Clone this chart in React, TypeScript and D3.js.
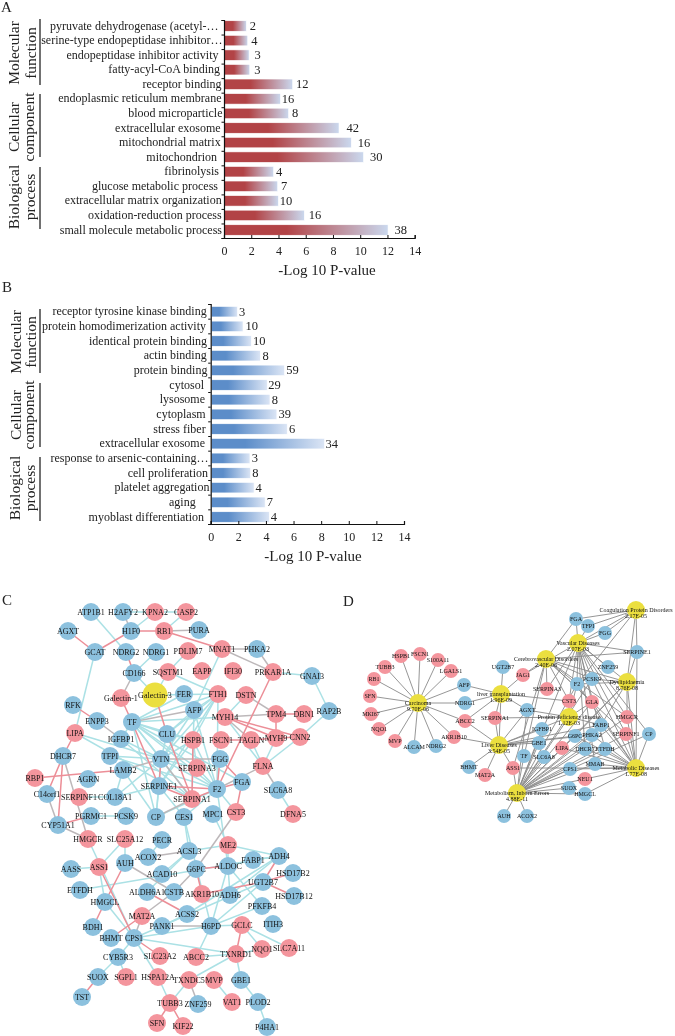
import React, { useEffect, useRef } from "react";
import * as d3 from "d3";

const FONT = "'Liberation Serif', 'Times New Roman', serif";

// ---------- Panel A ----------
const termsA = ["pyruvate dehydrogenase (acetyl-…", "serine-type endopeptidase inhibitor…", "endopeptidase inhibitor activity", "fatty-acyl-CoA binding", "receptor binding", "endoplasmic reticulum membrane", "blood microparticle", "extracellular exosome", "mitochondrial matrix", "mitochondrion", "fibrinolysis", "glucose metabolic process", "extracellular matrix organization", "oxidation-reduction process", "small molecule metabolic process"];
const valuesA = [1.6, 1.7, 1.8, 1.85, 5.0, 4.1, 4.7, 8.4, 9.3, 10.2, 3.6, 3.9, 3.95, 5.85, 12.0];
const countsA = [2, 4, 3, 3, 12, 16, 8, 42, 16, 30, 4, 7, 10, 16, 38];
const labelGapA = [5.5, 1.5, 5.5, 4, 2.5, 2.5, 1.5, 3.3, 3.3, 7, 5, 6, 2.3, 2.3, 2];
const countGapA = [4, 4, 6, 5, 4, 2, 4, 8, 7, 7, 3, 4, 2, 5, 7];

// ---------- Panel B ----------
const termsB = ["receptor tyrosine kinase binding", "protein homodimerization activity", "identical protein binding", "actin binding", "protein binding", "cytosol", "lysosome", "cytoplasm", "stress fiber", "extracellular exosome", "response to arsenic-containing…", "cell proliferation", "platelet aggregation", "aging", "myoblast differentiation"];
const valuesB = [1.9, 2.3, 2.9, 3.55, 5.3, 4.05, 4.25, 4.75, 5.5, 8.2, 2.8, 2.85, 3.1, 3.9, 4.2];
const countsB = [3, 10, 10, 8, 59, 29, 8, 39, 6, 34, 3, 8, 4, 7, 4];
const labelGapB = [4, 4.7, 3.7, 4, 3.3, 6.7, 5.7, 5, 5, 5.7, 2.3, 2.7, 1.3, 15, 6.7];
const countGapB = [2, 3, 2.3, 2.7, 2.3, 1.7, 2.3, 2.3, 2.3, 1.7, 2.3, 2.3, 2, 2.3, 2];

const xTicks = [0, 2, 4, 6, 8, 10, 12, 14];

// ---------- Panel C network ----------
type N = [string, number, number];
const blueC: N[] = [["ATP1B1",91,612],["H2AFY2",123,612],["AGXT",68,631],["H1F0",131,631],["PURA",199,630],["GCAT",95,652],["NDRG2",126,652],["NDRG1",156,652],["PHKA2",257,649],["CD166",134,673],["GNAI3",312,676],["FER",184,694],["RFK",73,705],["RAP2B",329,711],["AFP",194,710],["ENPP3",97,721],["TF",132,722],["CLU",167,734],["IGFBP1",121,739],["DHCR7",63,756],["TFPI",110,756],["VTN",161,759],["FGG",220,759],["LAMB2",123,770],["AGRN",88,779],["FGA",242,782],["SERPINE1",159,786],["F2",217,789],["SLC6A8",278,790],["C14orf1",47,794],["COL18A1",115,797],["PGRMC1",91,816],["PCSK9",126,816],["CP",156,817],["CES1",184,817],["MPC1",213,814],["CYP51A1",58,825],["PECR",162,840],["ACSL3",189,851],["ACOX2",148,857],["AUH",125,863],["FABP1",253,860],["ADH4",279,856],["G6PC",196,869],["ALDOC",228,866],["AASS",71,869],["ACAD10",162,874],["HSD17B2",293,873],["UGT2B7",263,882],["ETFDH",80,890],["ALDH6A1",147,892],["CSTB",174,892],["ADH6",230,895],["HSD17B12",294,896],["HMGCL",105,902],["PFKFB4",262,906],["ACSS2",187,914],["PANK1",162,926],["H6PD",211,926],["ITIH3",273,924],["BDH1",93,927],["BHMT",111,938],["CPS1",134,938],["CYB5R3",118,957],["SUOX",98,977],["GBE1",241,980],["TST",82,997],["ZNF259",198,1004],["PLOD2",258,1002],["P4HA1",267,1027]];
const redC: N[] = [["KPNA2",155,612],["CASP2",186,612],["RB1",164,631],["PDLIM7",188,651],["MNAT1",222,649],["SQSTM1",168,672],["EAPP",202,671],["IFI30",233,671],["PRKAR1A",273,672],["Galectin-1",121,698],["FTH1",218,694],["DSTN",246,695],["TPM4",276,714],["DBN1",304,714],["MYH14",225,717],["LIPA",75,733],["HSPB1",193,740],["FSCN1",221,740],["TAGLN",251,740],["MYH9",276,738],["CNN2",300,737],["SERPINA3",197,768],["FLNA",263,766],["RBP1",35,778],["SERPINF1",79,797],["SERPINA1",192,799],["CST3",236,812],["DFNA5",293,814],["HMGCR",88,839],["SLC25A12",125,839],["ME2",228,845],["ASS1",99,867],["AKR1B10",202,894],["MAT2A",142,916],["GCLC",242,925],["SLC7A11",289,948],["NQO1",262,949],["TXNRD1",236,954],["ABCC2",196,957],["SLC23A2",160,956],["SGPL1",126,977],["HSPA12A",158,977],["TXNDC5",189,980],["MVP",214,980],["VAT1",232,1002],["TUBB3",170,1003],["SFN",157,1023],["KIF22",183,1026]];
const yellowC: N[] = [["Galectin-3",155,695]];

const tealEdgesC = "ATP1B1:NDRG2 H2AFY2:KPNA2 KPNA2:CASP2 KPNA2:H1F0 CASP2:RB1 PRKAR1A:GNAI3 GNAI3:RAP2B RAP2B:CNN2 NDRG1:CD166 PDLIM7:SQSTM1 CD166:Galectin-3 SQSTM1:Galectin-3 SQSTM1:FTH1 GCAT:LIPA MNAT1:AFP FER:TF FTH1:TF FTH1:Galectin-3 FTH1:VTN FTH1:CLU FTH1:HSPB1 FTH1:SERPINE1 FTH1:AFP AFP:VTN AFP:CLU AFP:SERPINA1 TF:MYH14 TF:HSPB1 MYH14:DSTN MYH14:FLNA TAGLN:FLNA CNN2:FLNA MYH9:FLNA SLC6A8:DFNA5 LIPA:VTN LIPA:SERPINA1 TF:IGFBP1 TF:VTN TF:CLU TF:SERPINA3 TF:SERPINA1 TF:F2 TF:CP TF:FGA IGFBP1:VTN IGFBP1:SERPINA1 TFPI:VTN TFPI:F2 VTN:F2 VTN:CP CLU:HSPB1 CLU:VTN HSPB1:VTN HSPB1:SERPINA3 HSPB1:SERPINE1 HSPB1:F2 SERPINA3:F2 VTN:SERPINA3 F2:CST3 LAMB2:COL18A1 SERPINF1:COL18A1 COL18A1:VTN COL18A1:SERPINE1 PGRMC1:PCSK9 CP:F2 CP:SERPINE1 CES1:ACSL3 CES1:H6PD CES1:F2 CES1:SERPINE1 MPC1:ME2 F2:ALDOC HMGCR:CPS1 SLC25A12:AUH SLC25A12:ASS1 LAMB2:CP PECR:ACOX2 ACSL3:ACAD10 ACSL3:ALDH6A1 ACSL3:ME2 ME2:ADH4 ME2:ALDOC ALDOC:ADH6 ALDOC:H6PD ALDOC:PFKFB4 ALDOC:FABP1 FABP1:ADH4 ADH4:ACSS2 ADH4:ADH6 ADH4:ETFDH AASS:ASS1 ASS1:HMGCL HMGCL:CPS1 PANK1:ACSS2 PANK1:CPS1 CPS1:H6PD CPS1:TXNRD1 CPS1:CYB5R3 CPS1:HSPA12A CYB5R3:SUOX CYB5R3:SGPL1 H6PD:ABCC2 H6PD:GCLC UGT2B7:H6PD GCLC:NQO1 GCLC:SLC7A11 TXNRD1:ABCC2 TXNRD1:NQO1 TXNRD1:TXNDC5 TXNRD1:GBE1 GBE1:PLOD2 PLOD2:P4HA1 MVP:VAT1 TXNDC5:TUBB3 HSPA12A:TUBB3 PFKFB4:H6PD UGT2B7:PANK1 FTH1:F2 AFP:F2";
const pinkEdgesC = "H1F0:RB1 RB1:MNAT1 AGXT:GCAT GCAT:H1F0 PRKAR1A:F2 NDRG2:CD166 Galectin-1:TF Galectin-3:CLU RFK:ENPP3 TPM4:DBN1 TPM4:MYH9 MYH14:MYH9 MYH14:CNN2 FSCN1:TAGLN TAGLN:MYH9 MYH9:CNN2 LIPA:DHCR7 TF:SERPINE1 VTN:SERPINE1 CLU:SERPINA1 FGG:F2 SERPINE1:F2 SERPINE1:SERPINA1 SERPINA1:F2 F2:FGA FGA:CST3 FGG:FGA RBP1:LAMB2 DHCR7:C14orf1 DHCR7:CYP51A1 CYP51A1:PGRMC1 G6PC:ALDOC G6PC:AKR1B10 ADH4:UGT2B7 UGT2B7:HSD17B2 UGT2B7:HSD17B12 UGT2B7:AKR1B10 ASS1:CPS1 AUH:HMGCL HMGCL:BDH1 BHMT:MAT2A ALDH6A1:ACSS2 CPS1:SLC23A2 SUOX:TST GCLC:TXNRD1 TUBB3:SFN TUBB3:KIF22 HSPB1:SERPINA1";
const grayEdgesC = "H2AFY2:H1F0 RB1:PURA MNAT1:PHKA2 MNAT1:PRKAR1A PHKA2:PRKAR1A CD166:Galectin-1 AFP:TF ENPP3:IGFBP1 MYH14:TPM4 DSTN:TPM4 MYH14:TAGLN FLNA:SLC6A8 FLNA:F2 VTN:FGG VTN:SERPINA1 VTN:LAMB2 SERPINA1:CP DHCR7:HMGCR C14orf1:CYP51A1 CYP51A1:HMGCR ACOX2:ACSL3 CST3:G6PC MAT2A:CPS1 CSTB:MAT2A AUH:CSTB PANK1:H6PD TXNDC5:ZNF259 G6PC:CSTB";

// ---------- Panel D network ----------
const hubsD: [string, string, string, number, number][] = [
  ["Coag", "Coagulation Protein Disorders", "2.17E-05", 636, 610],
  ["Vasc", "Vascular Diseases", "2.07E-03", 578, 643],
  ["Cere", "Cerebrovascular Disorders", "2.40E-06", 546, 659],
  ["Dysl", "Dyslipidaemia", "8.76E-08", 627, 682],
  ["LivT", "liver transplantation", "1.96E-09", 501, 694],
  ["Carc", "Carcinoma", "9.70E-06", 418, 703],
  ["Prot", "Protein deficiency disease", "1.12E-03", 569, 717],
  ["LivD", "Liver Diseases", "3.54E-05", 499, 745],
  ["Meta", "Metabolic Diseases", "1.77E-08", 636, 768],
  ["Inbo", "Metabolism, Inborn Errors", "4.88E-11", 517, 793],
];
const blueD: N[] = [["ALCAM",414,747],["NDRG2",436,746],["AFP",464,685],["NDRG1",465,703],["UGT2B7",503,667],["AGXT",527,710],["F2",577,684],["PCSK9",592,679],["ZNF259",608,667],["FGA",576,619],["TFPI",588,626],["FGG",605,633],["SERPINE1",637,652],["FABP1",601,725],["IGFBP1",542,729],["G6PC",575,736],["PHKA2",592,735],["CP",649,734],["GBE1",539,743],["TF",524,756],["SLC6A8",544,757],["DHCR7",585,749],["ETFDH",605,749],["BHMT",469,767],["CPS1",570,769],["MMAB",595,764],["SUOX",569,788],["HMGCL",585,794],["AUH",504,816],["ACOX2",527,816]];
const redD: N[] = [["HSPB1",401,656],["FSCN1",420,654],["S100A11",438,660],["LGALS1",451,671],["TUBB3",385,667],["RB1",374,679],["SFN",370,696],["MKI67",371,714],["NQO1",379,729],["MVP",395,741],["AKR1B10",454,737],["ABCC2",465,721],["JAG1",523,675],["SERPINA1",495,718],["SERPINA3",547,689],["CST3",569,701],["GLA",592,702],["HMGCR",627,717],["SERPINF1",626,734],["LIPA",562,748],["MAT2A",485,775],["ASS1",513,768],["NEU1",585,779]];
const hubEdgesD: Record<string, string> = {
  Coag: "FGA TFPI FGG SERPINE1 F2 Vasc Dysl",
  Vasc: "FGA TFPI FGG SERPINE1 F2 PCSK9 ZNF259 CST3 SERPINA3 JAG1 HMGCR SERPINF1 GLA Dysl CP Inbo MMAB ETFDH DHCR7",
  Cere: "FGA SERPINE1 F2 PCSK9 CST3 SERPINA3 GLA JAG1 HMGCR SERPINF1 Dysl TF ASS1",
  Dysl: "SERPINE1 HMGCR PCSK9 F2 FABP1 LIPA G6PC",
  LivT: "UGT2B7 JAG1 AFP NDRG1 SERPINA1 ABCC2 AGXT CST3 LivD",
  Carc: "HSPB1 FSCN1 S100A11 LGALS1 TUBB3 RB1 SFN MKI67 NQO1 MVP ALCAM NDRG2 AKR1B10 ABCC2 NDRG1 AFP",
  Prot: "CST3 GLA AGXT SERPINA1 F2 FABP1 Inbo LivD",
  LivD: "AKR1B10 ABCC2 SERPINA1 AGXT BHMT MAT2A ASS1 IGFBP1 FABP1 G6PC PHKA2 GBE1",
  Meta: "CP SERPINF1 HMGCR ETFDH DHCR7 MMAB CPS1 NEU1 HMGCL PHKA2 G6PC LIPA FABP1 PCSK9 F2 GLA SERPINE1 Dysl ASS1",
  Inbo: "ASS1 AUH ACOX2 SUOX HMGCL NEU1 CPS1 MMAB TF GBE1 SLC6A8 LIPA G6PC PHKA2 DHCR7 ETFDH FABP1 IGFBP1 AGXT HMGCR CP SERPINF1 PCSK9 F2 GLA",
};

const identity = d3.scaleLinear().domain([0, 1]).range([0, 1]);

function XAxis({ scale, y }: { scale: d3.ScaleLinear<number, number>; y: number }) {
  const ref = useRef<SVGGElement>(null);
  useEffect(() => {
    const g = d3.select(ref.current!);
    g.call(d3.axisBottom(scale).tickValues(xTicks).tickFormat(d3.format("d")).tickSize(-3).tickPadding(8.5) as any);
    g.selectAll("path").attr("stroke", "#111").attr("stroke-width", 1.2);
    g.selectAll("line").attr("stroke", "#111").attr("stroke-width", 1);
    g.selectAll("text").attr("font-family", FONT).attr("font-size", 12).attr("fill", "#222");
  }, [scale]);
  return <g ref={ref} transform={`translate(0,${y})`} />;
}

function YAxis({ x, top, bottom, n }: { x: number; top: number; bottom: number; n: number }) {
  const ref = useRef<SVGGElement>(null);
  useEffect(() => {
    const s = d3.scaleLinear().domain([0, n]).range([top, bottom]);
    const g = d3.select(ref.current!);
    g.call(d3.axisLeft(s).ticks(n).tickValues(d3.range(0, n + 1)).tickFormat(() => "").tickSize(2.5) as any);
    g.selectAll("path").attr("stroke", "#111").attr("stroke-width", 1.2);
    g.selectAll("line").attr("stroke", "#111").attr("stroke-width", 1);
  }, [x, top, bottom, n]);
  return <g ref={ref} transform={`translate(${x},0)`} />;
}

interface BarProps {
  id: string; terms: string[]; values: number[]; counts: number[]; labelGap: number[]; countGap: number[];
  x0: number; x1: number; top: number; bottom: number; firstY: number; lastY: number; colorA: string; colorB: string; solid: number;
}
function BarPanel(p: BarProps) {
  const x = d3.scaleLinear().domain([0, 14]).range([p.x0, p.x1]);
  const y = d3.scalePoint<number>().domain(d3.range(p.terms.length)).range([p.firstY, p.lastY]);
  const h = 10.5;
  return (
    <g>
      <defs>
        <linearGradient id={p.id}>
          <stop offset="0" stopColor={p.colorA} />
          <stop offset={p.solid} stopColor={p.colorA} />
          <stop offset="1" stopColor={p.colorB} />
        </linearGradient>
      </defs>
      {p.values.map((v, i) => (
        <rect key={i} x={x(0) + 0.6} y={y(i)! - h / 2} width={x(v) - x(0)} height={h} fill={`url(#${p.id})`} stroke="#fff" strokeWidth={0.6} />
      ))}
      {p.terms.map((t, i) => (
        <text key={t} x={x(0) - p.labelGap[i]} y={y(i)! + 3.5} textAnchor="end" fontSize={12} fill="#222">{t}</text>
      ))}
      {p.counts.map((c, i) => (
        <text key={i} x={x(p.values[i]) + p.countGap[i]} y={y(i)! + 4} fontSize={12.5} fill="#222">{c}</text>
      ))}
      <YAxis x={x(0)} top={p.top} bottom={p.bottom} n={p.terms.length} />
      <XAxis scale={x} y={p.bottom} />
    </g>
  );
}

function Group({ lines, cy, bases, bracket }: { lines: string[]; cy: number; bases: number[]; bracket: [number, number] }) {
  return (
    <g>
      {lines.map((l, i) => (
        <text key={l} transform={`translate(${bases[i]},${cy}) rotate(-90)`} textAnchor="middle" fontSize={15.5} fill="#222">{l}</text>
      ))}
      <line x1={40} x2={40} y1={bracket[0]} y2={bracket[1]} stroke="#111" strokeWidth={1.2} />
    </g>
  );
}

function Network({ nodes, edges, r, fontSize }: {
  nodes: { name: string; x: number; y: number; r?: number; fill: string; lines?: string[] }[];
  edges: { a: string; b: string; color: string; width: number }[];
  r: number; fontSize: number;
}) {
  const at = new Map(nodes.map((n) => [n.name, n]));
  const line = d3.line<{ x: number; y: number }>().x((d) => identity(d.x)).y((d) => identity(d.y));
  return (
    <g>
      {edges.map((e, i) => {
        const a = at.get(e.a), b = at.get(e.b);
        if (!a || !b) return null;
        return <path key={i} d={line([a, b])!} stroke={e.color} strokeWidth={e.width} fill="none" />;
      })}
      {nodes.map((n) => (
        <circle key={n.name} cx={identity(n.x)} cy={identity(n.y)} r={n.r ?? r} fill={n.fill} />
      ))}
      {nodes.map((n) =>
        n.lines ? (
          <text key={n.name} x={n.x} y={n.y} textAnchor="middle" fontSize={fontSize} fill="#111">
            <tspan x={n.x} y={n.y + 2}>{n.lines[0]}</tspan>
            <tspan x={n.x} y={n.y + 8}>{n.lines[1]}</tspan>
          </text>
        ) : (
          <text key={n.name} x={n.x} y={n.y + fontSize * 0.33} textAnchor="middle" fontSize={fontSize} fill="#111">{n.name}</text>
        )
      )}
    </g>
  );
}

const BLUE = "#8cc1de", RED = "#f4959d", YELLOW = "#ebdf3f";
const parse = (s: string, color: string, width: number) =>
  s.split(" ").map((t) => { const [a, b] = t.split(":"); return { a, b, color, width }; });

const nodesC = [
  ...blueC.map(([name, x, y]) => ({ name, x, y, fill: BLUE })),
  ...redC.map(([name, x, y]) => ({ name, x, y, fill: RED })),
  ...yellowC.map(([name, x, y]) => ({ name, x, y, r: 12.5, fill: YELLOW })),
];
const edgesC = [...parse(tealEdgesC, "#abe1e5", 1.5), ...parse(grayEdgesC, "#bdb8ba", 1.5), ...parse(pinkEdgesC, "#ec8e97", 1.5)];

const nodesD = [
  ...blueD.map(([name, x, y]) => ({ name, x, y, fill: BLUE })),
  ...redD.map(([name, x, y]) => ({ name, x, y, fill: RED })),
  ...hubsD.map(([name, label, p, x, y]) => ({ name, x, y, r: 9, fill: YELLOW, lines: [label, p] })),
];
const edgesD = Object.entries(hubEdgesD).flatMap(([hub, list]) =>
  list.split(" ").map((b) => ({ a: hub, b, color: "#8a8a8a", width: 0.9 })));

export default function App() {
  return (
    <svg width={675} height={1036} viewBox="0 0 675 1036" style={{ position: "absolute", left: 0, top: 0, background: "#fff", filter: "blur(0.35px)" }} fontFamily={FONT}>
      <text x={1} y={12} fontSize={15} fill="#222">A</text>
      <text x={2} y={292} fontSize={15} fill="#222">B</text>
      <text x={2} y={605} fontSize={15} fill="#222">C</text>
      <text x={343} y={606} fontSize={15} fill="#222">D</text>

      <Group lines={["Molecular", "function"]} cy={53} bases={[19, 36]} bracket={[19, 85]} />
      <Group lines={["Cellular", "component"]} cy={127} bases={[19, 34]} bracket={[94, 157]} />
      <Group lines={["Biological", "process"]} cy={197} bases={[19, 35]} bracket={[167, 229]} />
      <BarPanel id="gradA" terms={termsA} values={valuesA} counts={countsA} labelGap={labelGapA} countGap={countGapA}
        x0={224} x1={414.7} top={20} bottom={238} firstY={26} lastY={230} colorA="#b24346" colorB="#cad8ee" solid={0.38} />
      <text x={327} y={275} textAnchor="middle" fontSize={15} fill="#222">-Log 10 P-value</text>

      <Group lines={["Molecular", "function"]} cy={342} bases={[21, 36]} bracket={[309, 373]} />
      <Group lines={["Cellular", "component"]} cy={415} bases={[21, 34]} bracket={[383, 447]} />
      <Group lines={["Biological", "process"]} cy={488} bases={[20, 35]} bracket={[457, 521]} />
      <BarPanel id="gradB" terms={termsB} values={valuesB} counts={countsB} labelGap={labelGapB} countGap={countGapB}
        x0={210.7} x1={404} top={304} bottom={524} firstY={311.7} lastY={517} colorA="#5c8dc9" colorB="#dbe5f5" solid={0.3} />
      <text x={313} y={561} textAnchor="middle" fontSize={15} fill="#222">-Log 10 P-value</text>

      <Network nodes={nodesC} edges={edgesC} r={9} fontSize={8} />
      <Network nodes={nodesD} edges={edgesD} r={7} fontSize={6} />
    </svg>
  );
}
